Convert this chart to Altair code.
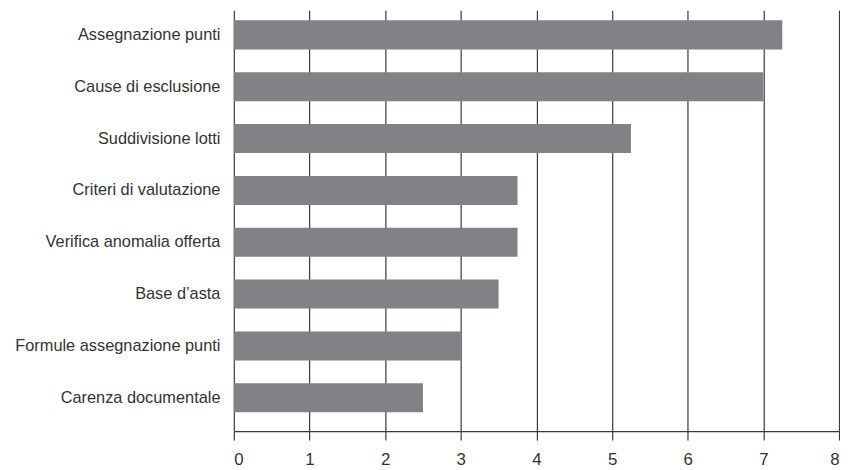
import altair as alt
import pandas as pd

categories = [
    "Assegnazione punti",
    "Cause di esclusione",
    "Suddivisione lotti",
    "Criteri di valutazione",
    "Verifica anomalia offerta",
    "Base d\u2019asta",
    "Formule assegnazione punti",
    "Carenza documentale",
]
values = [7.25, 7.0, 5.25, 3.75, 3.75, 3.5, 3.0, 2.5]
x_ticks = [0, 1, 2, 3, 4, 5, 6, 7, 8]

df = pd.DataFrame({"cat": categories, "val": values})

FONT = "Liberation Sans, Arial, sans-serif"

chart = (
    alt.Chart(df)
    .mark_bar(color="#818285")
    .encode(
        x=alt.X(
            "val:Q",
            scale=alt.Scale(domain=[0, 8], nice=False),
            axis=alt.Axis(
                values=x_ticks,
                title=None,
                grid=True,
                gridColor="#3a3a3a",
                gridWidth=1.2,
                domainColor="#3a3a3a",
                domainWidth=1.2,
                tickColor="#3a3a3a",
                tickWidth=1.2,
                tickSize=9,
                labelPadding=12,
                labelFontSize=17,
                labelFont=FONT,
                labelColor="#333333",
                format="d",
            ),
        ),
        y=alt.Y(
            "cat:N",
            sort=categories,
            scale=alt.Scale(paddingInner=0.44, paddingOuter=0.28, align=0.35),
            axis=alt.Axis(
                title=None,
                domain=False,
                ticks=False,
                grid=False,
                labelPadding=14,
                labelFontSize=16.5,
                labelFont=FONT,
                labelColor="#333333",
                labelLimit=400,
                minExtent=228,
                maxExtent=228,
            ),
        ),
    )
    .properties(
        width=840,
        height=462,
        padding={"left": 0, "top": 0, "right": 0, "bottom": 0},
        autosize=alt.AutoSizeParams(type="fit", contains="padding"),
    )
    .configure_view(stroke=None)
)

chart.save("out.html", embed_options={"renderer": "svg", "actions": False})
